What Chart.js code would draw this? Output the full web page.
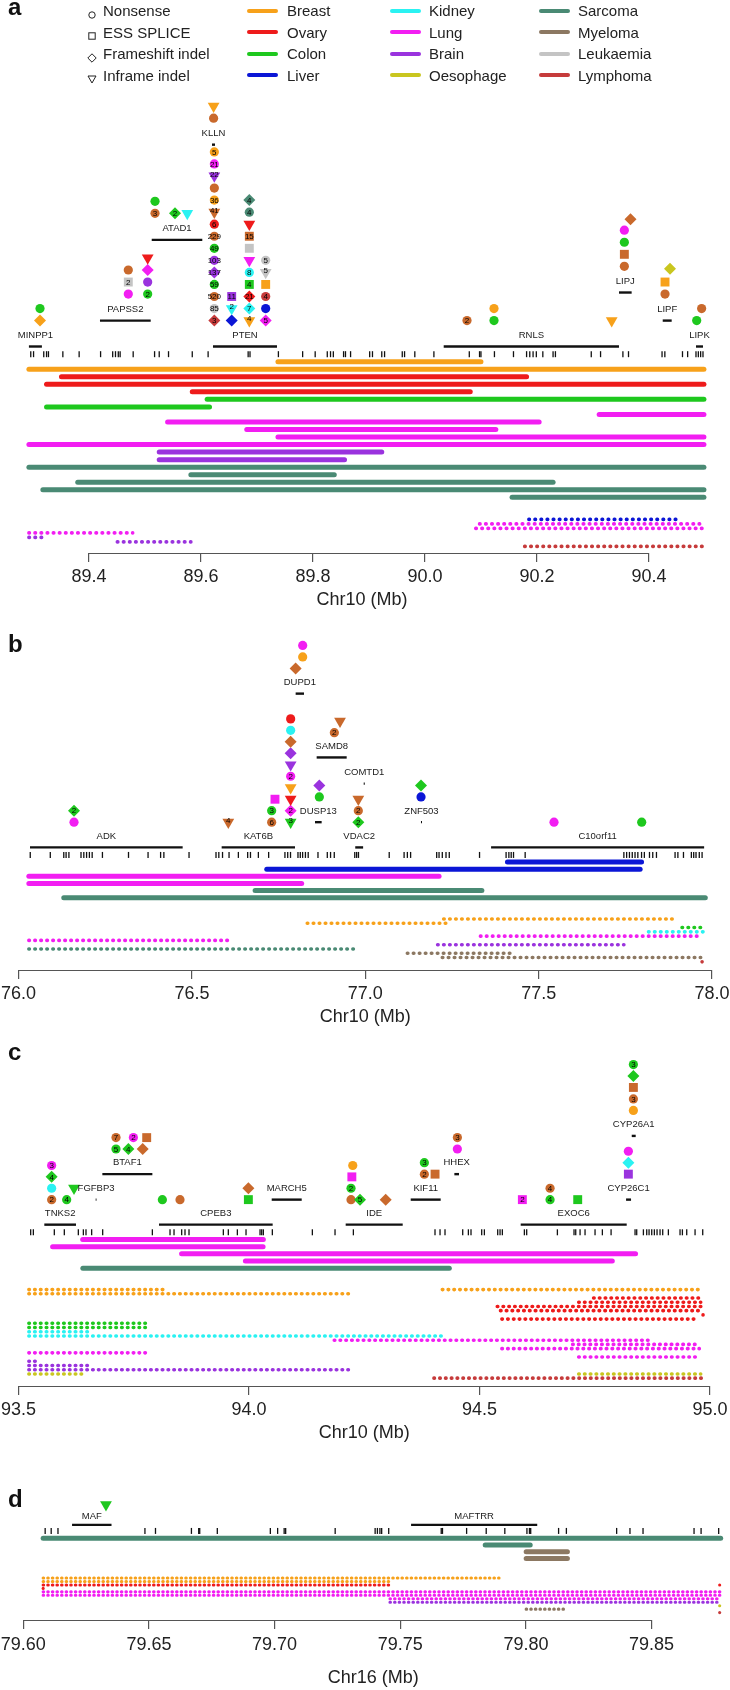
<!DOCTYPE html>
<html>
<head>
<meta charset="utf-8">
<script src="https://cdn.jsdelivr.net/npm/chart.js@4.4.1/dist/chart.umd.min.js"></script>
<style>
  html, body { margin: 0; padding: 0; background: #fff; }
  body { position: relative; width: 730px; height: 1690px; overflow: hidden;
         font-family: "Liberation Sans", Arial, Helvetica, sans-serif; color: #222; }
  canvas { position: absolute; left: 0; }
  .tag { position: absolute; left: 8px; font-size: 24px; line-height: 24px; font-weight: bold; color: #111; z-index: 2; }
  .leg { position: absolute; font-size: 15px; line-height: 15px; white-space: nowrap; z-index: 2; }
  .leg-line { position: absolute; height: 4px; width: 31px; border-radius: 2px; z-index: 2; }
  .leg-sym { position: absolute; z-index: 2; }
</style>
</head>
<body>
<script>
const FONT = '"Liberation Sans", Arial, Helvetica, sans-serif';

/* cancer types and legend */
const cancerKeys = ['br', 'ov', 'co', 'li', 'ki', 'lu', 'bn', 'oe', 'sa', 'my', 'le', 'ly'];
const cancerNames = ['Breast', 'Ovary', 'Colon', 'Liver', 'Kidney', 'Lung', 'Brain', 'Oesophage', 'Sarcoma', 'Myeloma', 'Leukaemia', 'Lymphoma'];
const cancerColors = ['#f7a11a', '#ee1b1b', '#1ec81e', '#0b16d6', '#2af2f2', '#f21ef2', '#9a33de', '#c9c61f', '#4a8a74', '#8c7862', '#c4c4c4', '#c63b3b'];
const otherColor = '#c9692c';
const mutTypes = ['Nonsense', 'ESS SPLICE', 'Frameshift indel', 'Inframe indel'];
const mutShapes = ['o', 's', 'd', 'v'];

/* ---------- panel a : Chr10 89.3-90.5 Mb ---------- */
const ticksA = [89.4, 89.6, 89.8, 90.0, 90.2, 90.4];
// name, start, end, row ('m' = main gene track)
const genesA = [
  ['MINPP1', 89.2927, 89.3159, 'm'], ['PAPSS2', 89.4196, 89.5102, 0], ['ATAD1', 89.5120, 89.6023, 6.7],
  ['KLLN', 89.6196, 89.6250, 14.6], ['PTEN', 89.6214, 89.7357, 'm'], ['RNLS', 90.0334, 90.3464, 'm'],
  ['LIPJ', 90.3464, 90.3690, 2.33], ['LIPF', 90.4245, 90.4405, 0], ['LIPK', 90.4839, 90.4964, 'm']
];
const exonsA = [89.2960, 89.3010, 89.3192, 89.3242, 89.3276, 89.3533, 89.3824, 89.4207, 89.4423, 89.4473, 89.4523, 89.4556,
  89.4789, 89.5171, 89.5254, 89.5420, 89.5844, 89.6127, 89.6842, 89.6875, 89.7382, 89.7815, 89.8039, 89.8255, 89.8313,
  89.8363, 89.8546, 89.8580, 89.8671, 89.9012, 89.9062, 89.9228, 89.9278, 89.9594, 89.9635, 89.9818, 90.0159, 90.0791,
  90.0974, 90.0999, 90.1240, 90.1580, 90.1814, 90.1871, 90.1930, 90.1988, 90.2104, 90.2287, 90.2329, 90.2969, 90.3135,
  90.3534, 90.3634, 90.4233, 90.4283, 90.4598, 90.4690, 90.4839, 90.4881, 90.4922, 90.4964];
// position, stack level, shape, cancer, count
const mutsA = [
  [89.3125, 0, 'd', 'br'], [89.3125, 1, 'o', 'co'],
  [89.4702, 2.2, 'o', 'lu'], [89.4702, 3.2, 's', 'le', 2], [89.4702, 4.2, 'o', 'ot'],
  [89.5048, 2.2, 'o', 'co', 2], [89.5048, 3.2, 'o', 'bn'], [89.5048, 4.2, 'd', 'lu'], [89.5048, 5.2, 'v', 'ov'],
  [89.5179, 8.9, 'o', 'ot', 3], [89.5179, 9.9, 'o', 'co'], [89.5536, 8.9, 'd', 'co', 2], [89.5755, 8.9, 'v', 'ki'],
  [89.6238, 0, 'd', 'ly', 3], [89.6238, 1, 'o', 'le', 85], [89.6238, 2, 'o', 'ot', 520], [89.6238, 3, 'o', 'co', 59],
  [89.6238, 4, 'd', 'bn', 137], [89.6238, 5, 'o', 'bn', 103], [89.6238, 6, 'o', 'co', 49], [89.6238, 7, 'o', 'ot', 229],
  [89.6238, 8, 'o', 'ov', 6], [89.6238, 9, 'v', 'ot', 41], [89.6238, 10, 'o', 'br', 36], [89.6238, 11, 'o', 'ot'],
  [89.6238, 12, 'v', 'bn', 22], [89.6238, 13, 'o', 'lu', 21], [89.6238, 14, 'o', 'br', 5],
  [89.6225, 16.8, 'o', 'ot'], [89.6225, 17.8, 'v', 'br'],
  [89.6548, 0, 'd', 'li'], [89.6548, 1, 'v', 'ki', 2], [89.6548, 2, 's', 'bn', 11],
  [89.6863, 0, 'v', 'br', 4], [89.6863, 1, 'd', 'ki', 7], [89.6863, 2, 'd', 'ov', 21], [89.6863, 3, 's', 'co', 4],
  [89.6863, 4, 'o', 'ki', 8], [89.6863, 5, 'v', 'lu'], [89.6863, 6, 's', 'le'], [89.6863, 7, 's', 'ot', 15],
  [89.6863, 8, 'v', 'ov'], [89.6863, 9, 'o', 'sa', 4], [89.6863, 10, 'd', 'sa', 4],
  [89.7155, 0, 'd', 'lu', 5], [89.7155, 1, 'o', 'li'], [89.7155, 2, 'o', 'ly', 4], [89.7155, 3, 's', 'br'],
  [89.7155, 4, 'v', 'le', 5], [89.7155, 5, 'o', 'le', 5],
  [90.0750, 0, 'o', 'ot', 2], [90.1232, 0, 'o', 'co'], [90.1232, 1, 'o', 'br'], [90.3334, 0, 'v', 'br'],
  [90.3560, 4.5, 'o', 'ot'], [90.3560, 5.5, 's', 'ot'], [90.3560, 6.5, 'o', 'co'], [90.3560, 7.5, 'o', 'lu'],
  [90.3670, 8.4, 'd', 'ot'],
  [90.4286, 2.2, 'o', 'ot'], [90.4286, 3.2, 's', 'br'], [90.4375, 4.3, 'd', 'oe'],
  [90.4852, 0, 'o', 'co'], [90.4940, 1, 'o', 'ot']
];
// rearrangement segments: start, end, cancer (one row each)
const barsA = [
  [89.7374, 90.0999, 'br'], [89.2927, 90.4981, 'br'],
  [89.3508, 90.1814, 'ov'], [89.3242, 90.4981, 'ov'], [89.5844, 90.0808, 'ov'],
  [89.6110, 90.4981, 'co'], [89.3242, 89.6152, 'co'],
  [90.3110, 90.4981, 'lu'], [89.5404, 90.2038, 'lu'], [89.6817, 90.1265, 'lu'], [89.7374, 90.4981, 'lu'], [89.2927, 90.4981, 'lu'],
  [89.5254, 89.9228, 'bn'], [89.5254, 89.8563, 'bn'],
  [89.2927, 90.4981, 'sa'], [89.5819, 89.8380, 'sa'], [89.3799, 90.2287, 'sa'], [89.3176, 90.4981, 'sa'], [90.1555, 90.4981, 'sa']
];
// copy-number rows: row, start, end, cancer
const dotsA = [
  [0, 90.1855, 90.4532, 'li'], [1, 90.0974, 90.4922, 'lu'], [2, 90.0907, 90.4964, 'lu'],
  [3, 89.2927, 89.4780, 'lu'], [4, 89.2927, 89.3201, 'bn'], [5, 89.4506, 89.5819, 'bn'], [6, 90.1780, 90.4981, 'ly']
];

/* ---------- panel b : Chr10 76-78 Mb ---------- */
const ticksB = [76.0, 76.5, 77.0, 77.5, 78.0];
const genesB = [
  ['ADK', 76.0329, 76.4732, 'm'], ['KAT6B', 76.5857, 76.7972, 'm'], ['DUPD1', 76.7991, 76.8232, 11.2],
  ['SAMD8', 76.8597, 76.9463, 5.64], ['COMTD1', 76.9954, 76.9985, 3.36], ['DUSP13', 76.8549, 76.8741, 0],
  ['VDAC2', 76.9710, 76.9937, 'm'], ['ZNF503', 77.1606, 77.1635, 0], ['C10orf11', 77.3628, 77.9773, 'm']
];
const exonsB = [76.0336, 76.0914, 76.1303, 76.1370, 76.1451, 76.1800, 76.1881, 76.1961, 76.2042, 76.2122, 76.2418,
  76.3170, 76.3734, 76.4096, 76.4190, 76.4916, 76.5694, 76.5775, 76.5882, 76.6070, 76.6339, 76.6607, 76.6688, 76.6916,
  76.7212, 76.7682, 76.7762, 76.7843, 76.8058, 76.8125, 76.8192, 76.8273, 76.8353, 76.8635, 76.8904, 76.8998, 76.9105,
  76.9696, 76.9750, 76.9803, 77.0690, 77.1119, 77.1213, 77.1307, 77.2059, 77.2127, 77.2221, 77.2328, 77.2422, 77.3295,
  77.4061, 77.4141, 77.4208, 77.4275, 77.4611, 77.7458, 77.7538, 77.7619, 77.7700, 77.7780, 77.7861, 77.7968, 77.8049,
  77.8197, 77.8291, 77.8398, 77.8935, 77.9016, 77.9177, 77.9405, 77.9472, 77.9539, 77.9633, 77.9714];
const mutsB = [
  [76.1598, 0, 'o', 'lu'], [76.1598, 1, 'd', 'co', 2],
  [76.6049, 0, 'v', 'ot', 4],
  [76.7299, 0, 'o', 'ot', 6], [76.7299, 1, 'o', 'co', 3], [76.7395, 2, 's', 'lu'],
  [76.7847, 0, 'v', 'co', 3], [76.7847, 1, 'd', 'lu', 2], [76.7847, 2, 'v', 'ov'], [76.7847, 3, 'v', 'br'],
  [76.7847, 4, 'o', 'lu', 2], [76.7847, 5, 'v', 'bn'], [76.7847, 6, 'd', 'bn'], [76.7847, 7, 'd', 'ot'],
  [76.7847, 8, 'o', 'ki'], [76.7847, 9, 'o', 'ov'],
  [76.7991, 13.4, 'd', 'ot'], [76.8194, 14.4, 'o', 'br'], [76.8194, 15.4, 'o', 'lu'],
  [76.8674, 2.2, 'o', 'co'], [76.8674, 3.2, 'd', 'bn'],
  [76.9107, 7.8, 'o', 'ot', 2], [76.9271, 8.8, 'v', 'ot'],
  [76.9799, 0, 'd', 'co', 2], [76.9799, 1, 'o', 'ot', 2], [76.9799, 2, 'v', 'ot'],
  [77.1607, 2.2, 'o', 'li'], [77.1607, 3.2, 'd', 'co'],
  [77.5443, 0, 'o', 'lu'], [77.7972, 0, 'o', 'co']
];
const barsB = [
  [77.4100, 77.7968, 'li'], [76.7158, 77.7927, 'li'], [76.0296, 77.2127, 'lu'], [76.0296, 76.8165, 'lu'],
  [76.6822, 77.3362, 'sa'], [76.1303, 77.9807, 'sa']
];
const dotsB = [
  [0, 77.2261, 77.8961, 'br'], [1, 76.8326, 77.2328, 'br'], [2, 77.9136, 77.9714, 'co'], [3, 77.8169, 77.9767, 'ki'],
  [4, 77.3321, 77.9673, 'lu'], [5, 76.0296, 76.6044, 'lu'], [6, 77.2086, 77.7458, 'bn'], [7, 76.0296, 76.9777, 'sa'],
  [8, 77.1213, 77.4235, 'my'], [9, 77.2221, 77.9673, 'my'], [10, 77.9714, 77.9714, 'ly']
];

/* ---------- panel c : Chr10 93.5-95 Mb ---------- */
const ticksC = [93.5, 94.0, 94.5, 95.0];
const genesC = [
  ['TNKS2', 93.5558, 93.6245, 'm'], ['FGFBP3', 93.6672, 93.6690, 0], ['BTAF1', 93.6817, 93.7902, 2.24],
  ['CPEB3', 93.8046, 94.0512, 'm'], ['MARCH5', 94.0491, 94.1142, 0], ['IDE', 94.2096, 94.3333, 'm'],
  ['KIF11', 94.3507, 94.4157, 0], ['HHEX', 94.4454, 94.4555, 2.24], ['EXOC6', 94.5893, 94.8193, 'm'],
  ['CYP26C1', 94.8179, 94.8287, 0], ['CYP26A1', 94.8302, 94.8388, 5.6]
];
const exonsC = [93.5262, 93.5320, 93.5775, 93.5992, 93.6296, 93.6405, 93.6462, 93.6585, 93.6824, 93.7902, 93.8285,
  93.8372, 93.8538, 93.8610, 93.8697, 93.9442, 93.9550, 93.9746, 93.9934, 94.0238, 94.0274, 94.0310, 94.0505, 94.1373,
  94.1865, 94.2263, 94.4034, 94.4143, 94.4251, 94.4635, 94.4758, 94.4815, 94.5047, 94.5105, 94.5394, 94.5445, 94.5495,
  94.5973, 94.6023, 94.6689, 94.7050, 94.7087, 94.7181, 94.7289, 94.7506, 94.7665, 94.7854, 94.8374, 94.8410, 94.8555,
  94.8627, 94.8678, 94.8736, 94.8793, 94.8851, 94.8916, 94.8974, 94.9097, 94.9350, 94.9401, 94.9495, 94.9676, 94.9842];
const mutsC = [
  [93.5717, 0, 'o', 'ot', 2], [93.5717, 1, 'o', 'ki'], [93.5717, 2, 'd', 'co', 4], [93.5717, 3, 'o', 'lu', 3],
  [93.6043, 0, 'o', 'co', 4], [93.6202, 1, 'v', 'co'],
  [93.7113, 4.45, 'o', 'co', 5], [93.7113, 5.45, 'o', 'ot', 7], [93.7381, 4.45, 'd', 'co', 4], [93.7490, 5.45, 'o', 'lu', 2],
  [93.7692, 4.45, 'd', 'ot'], [93.7779, 5.45, 's', 'ot'],
  [93.8119, 0, 'o', 'co'], [93.8502, 0, 'o', 'ot'], [93.9985, 0, 's', 'co'], [93.9985, 1, 'd', 'ot'],
  [94.2212, 0, 'o', 'ot'], [94.2212, 1, 'o', 'co', 2], [94.2230, 2, 's', 'lu'], [94.2250, 3, 'o', 'br'],
  [94.2407, 0, 'd', 'co', 5], [94.2964, 0, 'd', 'ot'],
  [94.3803, 2.24, 'o', 'ot', 2], [94.4035, 2.24, 's', 'ot'], [94.3803, 3.25, 'o', 'co', 3],
  [94.4519, 4.45, 'o', 'lu'], [94.4519, 5.45, 'o', 'ot', 3],
  [94.5929, 0, 's', 'lu', 2], [94.6530, 0, 'o', 'co', 4], [94.6530, 1, 'o', 'ot', 4], [94.7130, 0, 's', 'co'],
  [94.8229, 2.24, 's', 'bn'], [94.8229, 3.25, 'd', 'ki'], [94.8229, 4.25, 'o', 'lu'],
  [94.8338, 7.84, 'o', 'br'], [94.8338, 8.85, 'o', 'ot', 3], [94.8338, 9.86, 's', 'ot'], [94.8338, 10.86, 'd', 'co'],
  [94.8338, 11.87, 'o', 'co', 3]
];
const barsC = [
  [93.6390, 94.0310, 'lu'], [93.5738, 94.0304, 'lu'], [93.8536, 94.8385, 'lu'], [93.9920, 94.7880, 'lu'],
  [93.6394, 94.4344, 'sa']
];
const dotsC = [
  [0, 93.5223, 93.8213, 'br'], [0, 94.4193, 94.9748, 'br'], [1, 93.5223, 94.2192, 'br'],
  [2, 94.7475, 94.9828, 'ov'], [3, 94.7152, 94.9798, 'ov'], [4, 94.5385, 94.9828, 'ov'], [5, 94.5455, 94.9828, 'ov'],
  [6, 94.9849, 94.9849, 'ov'], [7, 94.5485, 94.9748, 'ov'],
  [8, 93.5223, 93.7829, 'co'], [9, 93.5223, 93.7829, 'co'],
  [10, 93.5223, 93.6566, 'ki'], [11, 93.5223, 94.4243, 'ki'],
  [12, 94.1849, 94.8688, 'lu'], [13, 94.7021, 94.9768, 'lu'], [14, 94.5485, 94.9768, 'lu'], [15, 93.5223, 93.7829, 'lu'],
  [16, 94.7152, 94.9768, 'lu'],
  [17, 93.5223, 93.5405, 'bn'], [18, 93.5223, 93.6566, 'bn'], [19, 93.5223, 94.2192, 'bn'],
  [20, 93.5223, 93.6445, 'oe'], [20, 94.7152, 94.9798, 'oe'],
  [21, 94.4011, 94.9828, 'ly']
];

/* ---------- panel d : Chr16 79.6-79.88 Mb ---------- */
const ticksD = [79.60, 79.65, 79.70, 79.75, 79.80, 79.85];
const genesD = [['MAF', 79.6194, 79.6351, 'm'], ['MAFTRR', 79.7543, 79.8045, 'm']];
const exonsD = [79.6087, 79.6111, 79.6138, 79.6484, 79.6526, 79.6669, 79.6698, 79.6702, 79.6772, 79.6983, 79.7012,
  79.7038, 79.7044, 79.7241, 79.7400, 79.7409, 79.7419, 79.7426, 79.7454, 79.7663, 79.7668, 79.7764, 79.7842, 79.7916,
  79.8004, 79.8014, 79.8019, 79.8130, 79.8161, 79.8361, 79.8414, 79.8466, 79.8669, 79.8697, 79.8767];
const mutsD = [[79.6329, 0, 'v', 'co']];
const barsD = [[79.6079, 79.8775, 'sa'], [79.7838, 79.8017, 'sa'], [79.8001, 79.8165, 'my'], [79.8001, 79.8165, 'my']];
const dotsD = [
  [0, 79.6079, 79.7906, 'br'], [1, 79.6079, 79.7459, 'br'], [2, 79.6079, 79.7459, 'ov'], [2, 79.8771, 79.8771, 'ov'],
  [3, 79.6079, 79.6079, 'ov'], [4, 79.6079, 79.8775, 'lu'], [5, 79.6079, 79.8775, 'lu'], [6, 79.7459, 79.8775, 'lu'],
  [7, 79.7459, 79.8762, 'bn'], [8, 79.8771, 79.8771, 'oe'], [9, 79.8001, 79.8151, 'my'], [10, 79.8771, 79.8771, 'ly']
];

/* ---------- layout (page pixels) ---------- */
const PA = {tag: 'a', top: 0, h: 613, axis: 553, left: 19, right: 705, min: 89.275, max: 90.5, tickPad: 4, titlePad: 2,
  mutBase: 317.7, step: 12.2, mainRow: -2.15, labelOff: 11, exonY: 351.7, barBase: 359.3, barStep: 7.63,
  dotBase: 519, dotStep: 4.55, dotGap: 6.1, dotSize: 3.6};
const PB = {tag: 'b', top: 613, h: 417, axis: 970, left: 18.6, right: 712, min: 76, max: 78, tickPad: 4, titlePad: 2,
  mutBase: 819.3, step: 11.7, mainRow: -2.2, labelOff: 11, exonY: 852.7, barBase: 860, barStep: 7.26,
  dotBase: 918, dotStep: 4.37, dotGap: 6, dotSize: 3.6};
const PC = {tag: 'c', top: 1030, h: 416, axis: 1386, left: 18.6, right: 710, min: 93.5, max: 95, tickPad: 4, titlePad: 2,
  mutBase: 1196, step: 11.6, mainRow: -2.2, labelOff: 11.3, exonY: 1229.3, barBase: 1236.7, barStep: 7.3,
  dotBase: 1287.7, dotStep: 4.3, dotGap: 5.8, dotSize: 3.6};
const PD = {tag: 'd', top: 1446, h: 244, axis: 1620, left: 23.3, right: 725, min: 79.60, max: 79.8785, tickPad: 5, titlePad: 1.2,
  mutBase: 1500, step: 12, mainRow: -1.75, labelOff: 8.5, exonY: 1527.3, barBase: 1535, barStep: 7,
  dotBase: 1576.3, dotStep: 3.6, dotGap: 4.6, dotSize: 3.1};

const shapeStyle = {o: 'circle', s: 'rect', d: 'rectRot', v: 'triangle'};
const shapeRadius = {o: 4.6, s: 6.3, d: 6, v: 6.8};

function colorOf(k) {
  const i = cancerKeys.indexOf(k);
  return i < 0 ? otherColor : cancerColors[i];
}

function segment(x0, x1, y, color, width, cap, dash) {
  return {
    data: [{x: x0, y: y}, {x: x1, y: y}],
    showLine: true, pointRadius: 0, borderColor: color, borderWidth: width,
    borderCapStyle: cap, borderDash: dash || [], clip: false
  };
}

function drawPanel(P, D) {
  const cv = document.createElement('canvas');
  cv.width = 730;
  cv.height = P.h;
  cv.style.top = P.top + 'px';
  document.body.appendChild(cv);

  const tag = document.createElement('div');
  tag.className = 'tag';
  tag.textContent = P.tag;
  tag.style.top = D.tagTop + 'px';
  document.body.appendChild(tag);

  const yPx = v => v - P.top;
  const mutY = lv => yPx(P.mutBase - lv * P.step);
  const geneY = r => yPx(P.mutBase - (r === 'm' ? P.mainRow : r) * P.step);

  const sets = [];
  // mutations (first dataset = drawn on top)
  sets.push({
    data: D.muts.map(m => ({x: m[0], y: mutY(m[1])})),
    pointStyle: D.muts.map(m => shapeStyle[m[2]]),
    pointRadius: D.muts.map(m => shapeRadius[m[2]]),
    pointRotation: D.muts.map(m => m[2] === 'v' ? 180 : 0),
    pointBackgroundColor: D.muts.map(m => colorOf(m[3])),
    pointBorderWidth: 0,
    clip: false
  });
  // exon ticks
  sets.push({
    data: D.exons.map(v => ({x: v, y: yPx(P.exonY)})),
    pointStyle: 'line', pointRotation: 90, pointRadius: 3,
    pointBorderColor: '#111', pointBorderWidth: 1.3, clip: false
  });
  // genes
  D.genes.forEach(g => sets.push(segment(g[1], g[2], geneY(g[3]), '#111', 2.4, 'butt')));
  // rearrangements
  D.bars.forEach((b, i) => sets.push(segment(b[0], b[1], yPx(P.barBase + i * P.barStep), colorOf(b[2]), 5, 'round')));
  // copy number rows (dotted)
  D.dots.forEach(d => {
    const y = yPx(P.dotBase + d[0] * P.dotStep);
    if (d[1] === d[2]) {
      sets.push({data: [{x: d[1], y: y}], pointRadius: P.dotSize / 2, pointBackgroundColor: colorOf(d[3]),
        pointBorderWidth: 0, clip: false});
    } else {
      sets.push(segment(d[1], d[2], y, colorOf(d[3]), P.dotSize, 'round', [0.5, P.dotGap - 0.5]));
    }
  });

  const textLayer = {
    id: 'textLayer' + P.tag,
    afterDatasetsDraw(chart) {
      const ctx = chart.ctx;
      const xs = chart.scales.x, ys = chart.scales.y;
      ctx.save();
      ctx.textAlign = 'center';
      ctx.textBaseline = 'middle';
      ctx.fillStyle = '#1a1a1a';
      ctx.font = '9.5px ' + FONT;
      D.genes.forEach(g => {
        ctx.fillText(g[0], xs.getPixelForValue((g[1] + g[2]) / 2), ys.getPixelForValue(geneY(g[3])) - P.labelOff);
      });
      ctx.font = '8px ' + FONT;
      ctx.fillStyle = '#000';
      chart.getDatasetMeta(0).data.forEach((el, i) => {
        const m = D.muts[i];
        if (m[4]) ctx.fillText(String(m[4]), el.x, el.y + (m[2] === 'v' ? -1.5 : 0.5));
      });
      // axis line between first and last tick
      const t = xs.ticks;
      const yb = Math.round(chart.chartArea.bottom) + 0.5;
      ctx.strokeStyle = '#555';
      ctx.lineWidth = 1.2;
      ctx.beginPath();
      ctx.moveTo(xs.getPixelForValue(t[0].value), yb);
      ctx.lineTo(xs.getPixelForValue(t[t.length - 1].value), yb);
      ctx.stroke();
      ctx.restore();
    }
  };

  new Chart(cv, {
    type: 'scatter',
    data: {datasets: sets},
    options: {
      responsive: false,
      animation: false,
      events: [],
      layout: {padding: {left: P.left, right: 730 - P.right, top: 0, bottom: 0}},
      plugins: {legend: {display: false}, tooltip: {enabled: false}},
      scales: {
        x: {
          type: 'linear', position: 'bottom', min: P.min, max: P.max,
          afterBuildTicks: s => { s.ticks = D.ticks.map(v => ({value: v})); },
          afterFit: s => { s.height = P.h - (P.axis - P.top); s.paddingLeft = 0; s.paddingRight = 0; },
          grid: {drawOnChartArea: false, drawTicks: true, tickLength: 9, color: '#555', lineWidth: 1.2},
          border: {display: false},
          ticks: {autoSkip: false, maxRotation: 0, minRotation: 0, padding: P.tickPad, color: '#222',
            font: {size: 18, family: FONT}, callback: v => Number(v).toFixed(D.dec)},
          title: {display: true, text: D.title, color: '#222', font: {size: 18, family: FONT},
            padding: {top: 0, bottom: P.titlePad}}
        },
        y: {type: 'linear', display: false, min: 0, max: P.axis - P.top, reverse: true}
      }
    },
    plugins: [textLayer]
  });
}

drawPanel(PA, {ticks: ticksA, genes: genesA, exons: exonsA, muts: mutsA, bars: barsA, dots: dotsA, dec: 1, title: 'Chr10 (Mb)', tagTop: -5});
drawPanel(PB, {ticks: ticksB, genes: genesB, exons: exonsB, muts: mutsB, bars: barsB, dots: dotsB, dec: 1, title: 'Chr10 (Mb)', tagTop: 632});
drawPanel(PC, {ticks: ticksC, genes: genesC, exons: exonsC, muts: mutsC, bars: barsC, dots: dotsC, dec: 1, title: 'Chr10 (Mb)', tagTop: 1040});
drawPanel(PD, {ticks: ticksD, genes: genesD, exons: exonsD, muts: mutsD, bars: barsD, dots: dotsD, dec: 2, title: 'Chr16 (Mb)', tagTop: 1487});

/* legend (panel a, top) */
const legRowY = [10.5, 32, 53.5, 75];
const symSvg = {
  o: '<circle cx="5" cy="5" r="3.2"/>',
  s: '<rect x="1.8" y="1.8" width="6.4" height="6.4"/>',
  d: '<polygon points="5,0.8 9.2,5 5,9.2 0.8,5"/>',
  v: '<polygon points="1,2 9,2 5,9"/>'
};
mutTypes.forEach((t, i) => {
  const s = document.createElement('div');
  s.className = 'leg-sym';
  s.style.left = '87px';
  s.style.top = (legRowY[i] - 5) + 'px';
  s.innerHTML = '<svg width="10" height="10" viewBox="0 0 10 10" fill="none" stroke="#222" stroke-width="1">' +
    symSvg[mutShapes[i]] + '</svg>';
  document.body.appendChild(s);
  const l = document.createElement('div');
  l.className = 'leg';
  l.textContent = t;
  l.style.left = '103px';
  l.style.top = (legRowY[i] - 7.3) + 'px';
  document.body.appendChild(l);
});
const legLineX = [247, 390, 539];
const legTextX = [287, 429, 578];
cancerNames.forEach((n, i) => {
  const col = Math.floor(i / 4), row = i % 4;
  const ln = document.createElement('div');
  ln.className = 'leg-line';
  ln.style.left = legLineX[col] + 'px';
  ln.style.top = (legRowY[row] - 2) + 'px';
  ln.style.background = cancerColors[i];
  document.body.appendChild(ln);
  const l = document.createElement('div');
  l.className = 'leg';
  l.textContent = n;
  l.style.left = legTextX[col] + 'px';
  l.style.top = (legRowY[row] - 7.3) + 'px';
  document.body.appendChild(l);
});
</script>
</body>
</html>
